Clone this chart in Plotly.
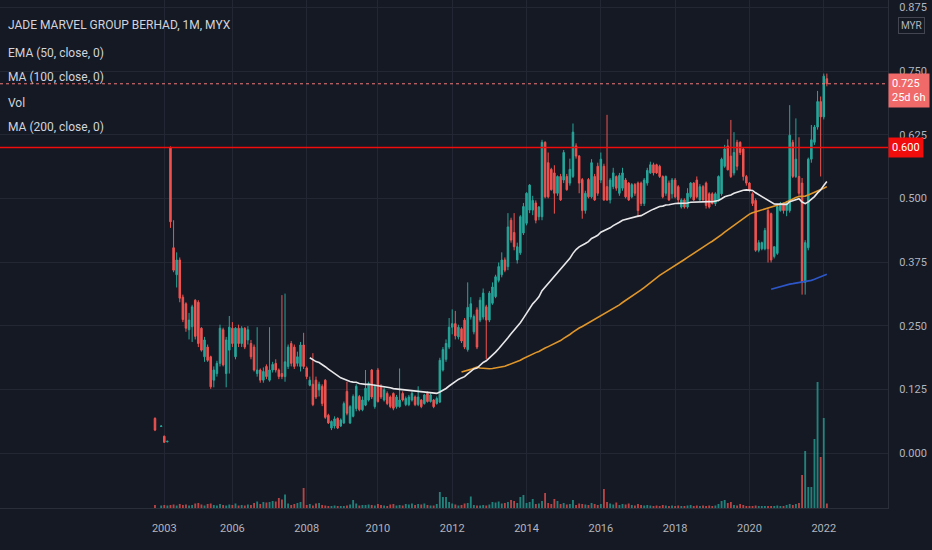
import plotly.graph_objs as go
import pandas as pd

# monthly bars, index 0 = first bar on the chart (one month is missing at index 1)
opens = [
    .068, None, .052, .033, .022, .600, .403, .350, .379, .306,
    .293, .242, .248, .300, .296, .245, .189, .208, .189, .143,
    .156, .176, .242, .156, .202, .245, .189, .245, .215, .245,
    .222, .215, .208, .156, .163, .143, .170, .143, .163, .176,
    .163, .156, .150, .170, .215, .208, .176, .170, .212, .167,
    .133, .135, .143, .124, .131, .143, .074, .049, .053, .068,
    .053, .059, .121, .059, .072, .087, .111, .085, .094, .104,
    .163, .091, .163, .131, .104, .117, .110, .117, .091, .091,
    .117, .095, .095, .104, .110, .095, .104, .097, .117, .101,
    .104, .097, .100, .163, .184, .208, .247, .254, .228, .244,
    .261, .203, .267, .238, .281, .261, .267, .287, .261, .294,
    .307, .339, .350, .379, .366, .457, .433, .379, .393, .432,
    .451, .477, .477, .491, .464, .464, .610, .570, .557, .550,
    .510, .543, .536, .543, .530, .543, .603, .583, .537, .476,
    .537, .503, .543, .563, .536, .563, .523, .497, .523, .543,
    .510, .520, .536, .530, .503, .527, .530, .530, .490, .530,
    .550, .566, .566, .563, .543, .510, .530, .509, .536, .523,
    .483, .497, .483, .503, .530, .536, .497, .523, .530, .509,
    .509, .490, .497, .509, .563, .603, .583, .550, .610, .610,
    .597, .543, .530, .509, .496, .398, .401, .401, .476, .470,
    .386, .392, .476, .490, .476, .476, .610, .543, .543, .530,
    .335, .403, .577, .610, .640, .690, .660, .735,
]
highs = [
    .070, None, .054, .034, .024, .602, .457, .394, .384, .311,
    .296, .275, .291, .302, .300, .247, .228, .213, .191, .170,
    .181, .252, .246, .228, .269, .257, .247, .252, .249, .247,
    .249, .222, .213, .247, .166, .168, .174, .247, .179, .184,
    .166, .310, .313, .213, .220, .213, .199, .218, .236, .170,
    .150, .196, .150, .140, .135, .145, .077, .064, .072, .070,
    .068, .101, .140, .094, .115, .135, .114, .111, .163, .140,
    .165, .135, .167, .135, .129, .121, .113, .119, .114, .166,
    .121, .111, .114, .121, .113, .131, .106, .116, .121, .117,
    .106, .111, .187, .208, .223, .265, .282, .279, .252, .247,
    .265, .335, .306, .272, .286, .306, .323, .291, .318, .335,
    .350, .374, .394, .384, .471, .462, .471, .413, .467, .491,
    .512, .528, .505, .496, .485, .615, .612, .590, .560, .565,
    .545, .548, .595, .548, .578, .647, .608, .585, .540, .515,
    .540, .577, .548, .570, .590, .568, .664, .540, .560, .545,
    .550, .560, .540, .532, .530, .530, .533, .533, .540, .560,
    .572, .570, .568, .566, .545, .545, .535, .540, .540, .526,
    .500, .500, .520, .532, .532, .543, .528, .526, .533, .512,
    .512, .512, .545, .580, .605, .616, .654, .630, .615, .612,
    .600, .546, .532, .512, .500, .418, .415, .442, .480, .472,
    .405, .486, .493, .492, .495, .683, .615, .657, .620, .540,
    .418, .580, .644, .644, .711, .700, .745, .745,
]
lows = [
    .043, None, .051, .020, .021, .442, .355, .325, .296, .257,
    .238, .223, .218, .223, .208, .199, .179, .179, .126, .129,
    .150, .170, .170, .129, .156, .208, .184, .208, .208, .204,
    .213, .184, .160, .150, .138, .138, .145, .140, .158, .158,
    .145, .145, .140, .165, .170, .165, .170, .160, .165, .145,
    .131, .092, .106, .111, .092, .067, .057, .045, .048, .047,
    .051, .057, .074, .057, .070, .082, .082, .082, .092, .101,
    .106, .087, .099, .106, .101, .094, .088, .084, .087, .089,
    .101, .092, .092, .101, .092, .092, .088, .095, .099, .099,
    .088, .095, .098, .160, .179, .204, .233, .223, .223, .216,
    .204, .199, .262, .233, .204, .257, .262, .184, .257, .291,
    .304, .335, .345, .355, .359, .413, .398, .372, .389, .428,
    .447, .471, .467, .451, .457, .457, .500, .500, .515, .470,
    .505, .495, .530, .515, .525, .540, .578, .510, .460, .470,
    .500, .500, .495, .505, .530, .495, .495, .490, .518, .515,
    .505, .515, .500, .495, .500, .505, .463, .485, .485, .525,
    .548, .545, .548, .540, .500, .505, .495, .500, .500, .490,
    .480, .480, .480, .500, .495, .500, .495, .495, .480, .480,
    .488, .485, .494, .505, .560, .555, .540, .545, .555, .585,
    .535, .525, .512, .485, .395, .394, .398, .398, .374, .374,
    .382, .389, .474, .470, .465, .472, .540, .540, .505, .311,
    .311, .398, .570, .605, .635, .543, .655, .720,
]
closes = [
    .045, None, .053, .021, .023, .454, .359, .379, .304, .262,
    .245, .261, .287, .229, .215, .202, .222, .182, .130, .163,
    .176, .245, .173, .222, .247, .215, .245, .215, .245, .208,
    .242, .189, .163, .163, .143, .160, .150, .163, .174, .163,
    .150, .150, .179, .208, .176, .170, .189, .212, .170, .150,
    .143, .095, .110, .135, .097, .070, .059, .062, .067, .049,
    .065, .097, .078, .091, .111, .131, .085, .104, .127, .136,
    .110, .131, .101, .110, .124, .097, .091, .088, .110, .104,
    .104, .107, .110, .117, .095, .110, .091, .114, .101, .114,
    .091, .107, .182, .203, .215, .247, .254, .230, .247, .220,
    .208, .286, .293, .268, .208, .300, .314, .261, .314, .326,
    .346, .366, .379, .359, .444, .418, .405, .405, .464, .484,
    .510, .526, .496, .457, .483, .610, .503, .503, .517, .510,
    .543, .497, .590, .517, .557, .630, .583, .530, .476, .510,
    .503, .570, .497, .510, .577, .497, .497, .536, .550, .520,
    .545, .550, .503, .497, .527, .510, .476, .490, .536, .555,
    .566, .550, .550, .543, .503, .543, .497, .536, .503, .497,
    .497, .483, .510, .530, .497, .503, .523, .497, .486, .483,
    .490, .509, .543, .577, .597, .556, .543, .590, .563, .590,
    .543, .530, .516, .490, .398, .413, .413, .437, .401, .379,
    .405, .484, .490, .476, .490, .624, .543, .577, .510, .335,
    .413, .577, .615, .640, .690, .660, .740, .725,
]
volumes = [
    6, None, 5, 6, 5, 6, 7, 5, 8, 6,
    7, 5, 6, 9, 10, 7, 5, 8, 9, 6,
    5, 8, 6, 5, 7, 6, 9, 5, 6, 5,
    7, 6, 10, 13, 8, 12, 11, 12, 14, 13,
    20, 17, 27, 9, 6, 8, 10, 12, 40, 6,
    8, 5, 9, 10, 6, 5, 4, 4, 5, 4,
    4, 4, 5, 7, 16, 9, 5, 6, 6, 7,
    6, 5, 8, 6, 5, 4, 7, 8, 5, 6,
    5, 8, 7, 9, 6, 8, 7, 9, 6, 5,
    5, 8, 32, 22, 22, 12, 9, 7, 5, 6,
    9, 10, 23, 6, 5, 5, 6, 5, 7, 12,
    11, 13, 9, 10, 12, 16, 14, 10, 22, 26,
    10, 12, 18, 8, 9, 14, 30, 10, 8, 18,
    14, 8, 10, 7, 8, 16, 6, 9, 8, 7,
    6, 10, 8, 6, 8, 38, 12, 9, 7, 11,
    6, 8, 7, 9, 6, 5, 8, 6, 5, 6,
    5, 4, 5, 4, 6, 5, 4, 5, 4, 5,
    4, 4, 5, 6, 4, 5, 4, 5, 4, 5,
    4, 5, 8, 14, 16, 10, 12, 6, 5, 8,
    6, 4, 4, 4, 5, 4, 4, 4, 4, 4,
    4, 5, 4, 4, 6, 8, 6, 8, 10, 66,
    114, 42, 42, 138, 252, 102, 180, 9,
]

year_bars = [3, 25, 49, 72, 96, 120, 144, 168, 192, 216]
year_labels = ["2003", "2006", "2008", "2010", "2012", "2014", "2016", "2018", "2020", "2022"]

last_price = 0.725
countdown = "25d 6h"
level_price = 0.600
title = "JADE MARVEL GROUP BERHAD, 1M, MYX"
study_labels = ["EMA (50, close, 0)", "MA (100, close, 0)", "Vol", "MA (200, close, 0)"]

assert len(opens) == len(highs) == len(lows) == len(closes) == len(volumes)

BG = "#151924"
GRID = "#232733"
TXT = "#b2b5be"
UP = "#26a69a"
DOWN = "#ef5350"
FONT = "Roboto, Liberation Sans, sans-serif"

bars = list(range(len(closes)))
close_s = pd.Series(closes, dtype=float)
ema50 = close_s.ewm(span=50, adjust=True, min_periods=50).mean()
ma100 = close_s.rolling(100, min_periods=99).mean()
ma200 = close_s.rolling(200, min_periods=199).mean()

vol_colors = []
for o, c in zip(opens, closes):
    if o is None:
        vol_colors.append(UP)
    elif c >= o:
        vol_colors.append("rgba(38,166,154,0.75)")
    else:
        vol_colors.append("rgba(239,83,80,0.75)")

fig = go.Figure()
fig.add_trace(go.Bar(
    x=bars, y=volumes, yaxis="y2", width=0.6,
    marker=dict(color=vol_colors, line=dict(width=0)),
))
fig.add_trace(go.Candlestick(
    x=bars, open=opens, high=highs, low=lows, close=closes,
    increasing=dict(line=dict(color=UP, width=1), fillcolor=UP),
    decreasing=dict(line=dict(color=DOWN, width=1), fillcolor=DOWN),
    whiskerwidth=0,
))
fig.add_trace(go.Scatter(x=bars, y=ma200, mode="lines", line=dict(color="#2d56c8", width=1.6)))
fig.add_trace(go.Scatter(x=bars, y=ma100, mode="lines", line=dict(color="#e0962a", width=1.6)))
fig.add_trace(go.Scatter(x=bars, y=ema50, mode="lines", line=dict(color="#e8e8ea", width=1.6)))

fig.add_hline(y=last_price, line=dict(color="#f07878", width=1, dash="dot"))
fig.add_hline(y=level_price, line=dict(color="#f20d0d", width=1.6))

# price labels on the right scale
fig.add_annotation(
    xref="paper", x=1, xanchor="left", yref="y", y=level_price, yanchor="middle",
    text=f"{level_price:.3f}", showarrow=False, bgcolor="#f20d0d", borderpad=3,
    font=dict(color="white", size=11, family=FONT), align="left",
)
fig.add_annotation(
    xref="paper", x=1, xanchor="left", yref="y", y=last_price, yanchor="top", yshift=11,
    text=f"{last_price:.3f}<br>{countdown}", showarrow=False, bgcolor="#f06a6a", borderpad=3,
    font=dict(color="white", size=11, family=FONT), align="left",
)
fig.add_annotation(
    xref="paper", x=1, xanchor="center", xshift=23, yref="paper", y=1, yanchor="top", yshift=-17,
    text="MYR", showarrow=False, bordercolor="#434651", borderwidth=1, borderpad=2,
    font=dict(color=TXT, size=10, family=FONT),
)

# legend lines in the top left corner
for k, txt in enumerate([title] + study_labels):
    fig.add_annotation(
        xref="paper", x=0, xanchor="left", xshift=6,
        yref="paper", y=1, yanchor="middle", yshift=-[25, 53, 77, 103, 127][k],
        text=txt, showarrow=False, font=dict(color="#d1d4dc", size=12, family=FONT),
    )

fig.update_layout(
    width=932, height=550,
    margin=dict(l=0, r=44, t=0, b=42),
    paper_bgcolor=BG, plot_bgcolor=BG,
    showlegend=False,
    font=dict(family=FONT, color=TXT, size=11),
    xaxis=dict(
        range=[-50.06, 236.75], tickvals=year_bars, ticktext=year_labels,
        showgrid=True, gridcolor=GRID, zeroline=False,
        showline=True, linecolor="#2a2e39", linewidth=1,
        ticks="", ticklabelstandoff=10, rangeslider=dict(visible=False),
        tickfont=dict(color=TXT, size=11),
    ),
    yaxis=dict(
        side="right", range=[-0.108, 0.8895], tick0=0, dtick=0.125, tickformat=".3f",
        showgrid=True, gridcolor=GRID, zeroline=False,
        showline=True, linecolor="#2a2e39", linewidth=1,
        ticks="", ticklabelstandoff=8,
        tickfont=dict(color=TXT, size=11),
    ),
    yaxis2=dict(overlaying="y", range=[0, 1016], visible=False, fixedrange=True),
)

# the page's default body margin would leave a white border round the chart
fig.write_html(
    "out.html",
    config={"displayModeBar": False},
    post_script="document.body.style.margin='0';document.body.style.background='#151924';",
)
